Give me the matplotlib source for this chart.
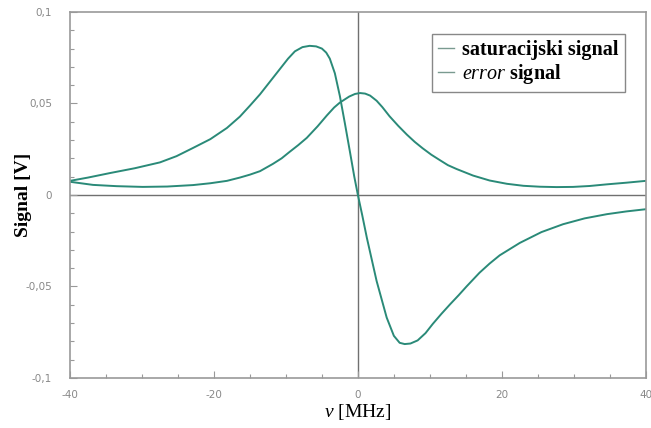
import matplotlib
matplotlib.use("Agg")
import matplotlib.pyplot as plt
from matplotlib.ticker import MultipleLocator, FuncFormatter

plt.rcParams["mathtext.fontset"] = "custom"
plt.rcParams["mathtext.rm"] = "Liberation Serif"
plt.rcParams["mathtext.it"] = "Liberation Serif:italic"
plt.rcParams["mathtext.bf"] = "Liberation Serif:bold"

# Saturation signal (Lorentzian-like peak)
sat_x = [-40, -36.8, -33.5, -29.9, -26.5, -22.9, -20.5, -18.2, -16.4, -15.0, -13.6, -11.8,
         -10.6, -9.5, -8.3, -7.1, -5.6, -4.3, -3.3, -2.5, -1.2, -0.4, 0.3, 1.0, 1.7, 2.6, 3.4,
         4.4, 5.6, 6.8, 7.9, 9.0, 10.2, 11.4, 12.5, 13.7, 16.0, 18.3, 20.7, 23.0, 25.3, 27.6,
         29.9, 32.2, 34.6, 37.3, 40]
sat_y = [0.0072, 0.0055, 0.0048, 0.0044, 0.0046, 0.0054, 0.0064, 0.0077, 0.0095, 0.0111,
         0.0130, 0.0170, 0.0200, 0.0235, 0.0272, 0.0312, 0.0375, 0.0435, 0.0478, 0.0505,
         0.0538, 0.0552, 0.0557, 0.0554, 0.0543, 0.0515, 0.0480, 0.0430, 0.0378, 0.0330,
         0.0290, 0.0255, 0.0220, 0.0190, 0.0163, 0.0142, 0.0106, 0.0079, 0.0061, 0.0050,
         0.0045, 0.0043, 0.0044, 0.0049, 0.0058, 0.0067, 0.0077]

# Error signal (dispersive)
err_x = [-40, -37.5, -34.4, -31.0, -27.5, -25.2, -22.9, -20.5, -18.2, -16.4, -15.0, -13.6,
         -12.2, -10.8, -9.7, -8.75, -7.7, -6.7, -5.8, -5.0, -4.4, -3.9, -3.2, -2.5, -1.8,
         -1.1, -0.5, 0.0, 0.6, 1.25, 2.6, 4.0, 5.0, 5.8, 6.5, 7.3, 8.3, 9.4, 10.4, 11.6,
         12.8, 14.0, 15.1, 16.9, 18.3, 19.7, 22.5, 25.5, 28.5, 31.5, 34.6, 37.3, 40]
err_y = [0.0077, 0.0095, 0.0120, 0.0146, 0.0178, 0.0212, 0.0257, 0.0305, 0.0366, 0.0428,
         0.0488, 0.0550, 0.0620, 0.0690, 0.0745, 0.0785, 0.0808, 0.0815, 0.0812, 0.0800,
         0.0778, 0.0745, 0.0665, 0.0540, 0.0390, 0.0235, 0.0100, 0.0, -0.0110, -0.0235,
         -0.0470, -0.0670, -0.0770, -0.0808, -0.0815, -0.0812, -0.0795, -0.0755, -0.0705,
         -0.0650, -0.0598, -0.0548, -0.0500, -0.0425, -0.0375, -0.0330, -0.0262, -0.0203,
         -0.0160, -0.0128, -0.0105, -0.0090, -0.0078]

labels = ["saturacijski signal", r"$\mathit{error}$ signal"]
line_color = "#2a8a78"

fig = plt.figure(figsize=(6.51, 4.28), dpi=100)
ax = fig.add_axes([0.1075, 0.117, 0.8845, 0.855])

ax.plot(sat_x, sat_y, color=line_color, lw=1.4, label=labels[0])
ax.plot(err_x, err_y, color=line_color, lw=1.4, label=labels[1])

ax.axhline(0, color="#707070", lw=1.0, zorder=0)
ax.axvline(0, color="#707070", lw=1.0, zorder=0)

ax.set_xlim(-40, 40)
ax.set_ylim(-0.1, 0.1)
ax.xaxis.set_major_locator(MultipleLocator(20))
ax.xaxis.set_minor_locator(MultipleLocator(5))
ax.yaxis.set_major_locator(MultipleLocator(0.05))
ax.yaxis.set_minor_locator(MultipleLocator(0.01))

def yfmt(v, pos):
    if abs(v) < 1e-9:
        return "0"
    s = f"{v:.2f}".rstrip("0").rstrip(".")
    return s.replace(".", ",")

ax.yaxis.set_major_formatter(FuncFormatter(yfmt))
ax.xaxis.set_major_formatter(FuncFormatter(lambda v, p: f"{v:.0f}"))

ax.tick_params(which="both", direction="in", colors="#999999", labelcolor="#888888",
               labelsize=7.5, top=False, right=False)
ax.tick_params(axis="y", which="major", pad=13)
ax.tick_params(axis="x", which="major", pad=9)
ax.tick_params(which="major", length=5, width=0.8)
ax.tick_params(which="minor", length=3, width=0.8)
for sp in ax.spines.values():
    sp.set_color("#999999")
    sp.set_linewidth(1.2)

ax.set_ylabel("Signal [V]", family="Liberation Serif", fontweight="bold", fontsize=14)
ax.yaxis.set_label_coords(-0.066, 0.5)
ax.set_xlabel(r"$\mathit{v}$ [MHz]", family="Liberation Serif", fontsize=14, labelpad=1)

leg = ax.legend(loc="upper right", bbox_to_anchor=(0.9635, 0.94),
                prop={"family": "Liberation Serif", "weight": "bold", "size": 14.5},
                handlelength=0.8, handletextpad=0.4, borderpad=0.3, labelspacing=0.1,
                borderaxespad=0.0,
                fancybox=False, edgecolor="#888888", framealpha=1)
leg.get_frame().set_linewidth(1.0)
for h in leg.get_lines():
    h.set_color("#7a9a90")
    h.set_linewidth(1.0)

fig.savefig("out.png", dpi=100)
